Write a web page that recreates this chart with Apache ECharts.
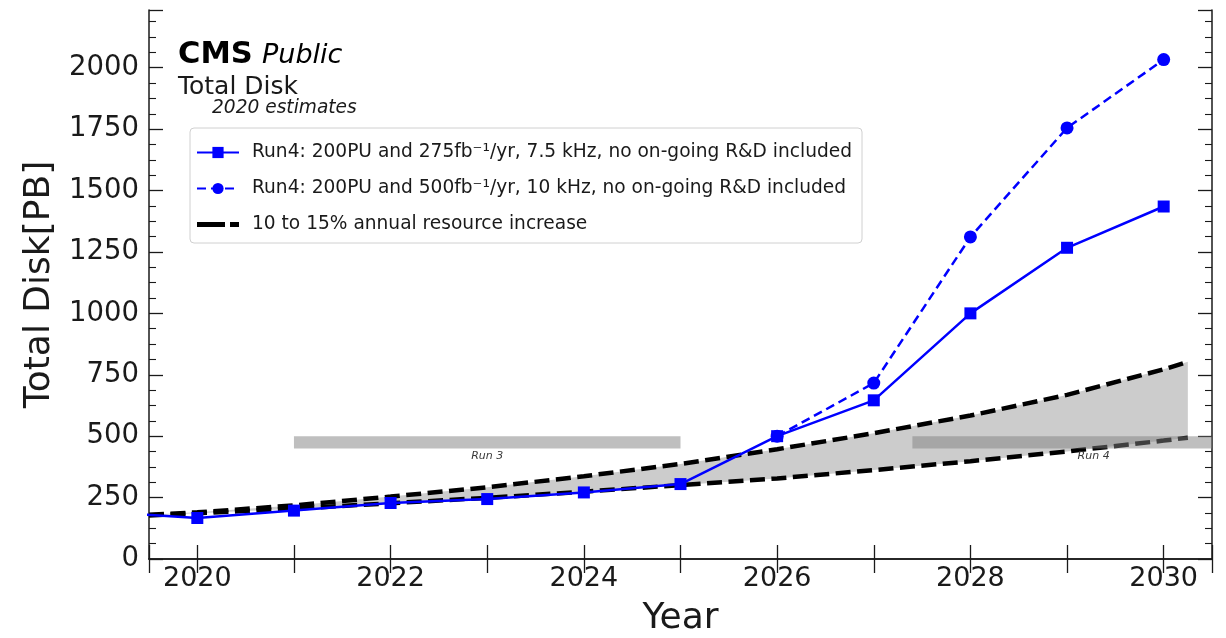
<!DOCTYPE html>
<html><head><meta charset="utf-8">
<script src="https://cdn.jsdelivr.net/npm/echarts@6/dist/echarts.min.js"></script>
<style>html,body{margin:0;padding:0;background:#fff}#c{width:1226px;height:638px}</style>
</head><body><div id="c"></div>
<script>
// ---- data ----
const years = [2019, 2020, 2021, 2022, 2023, 2024, 2025, 2026, 2027, 2028, 2029, 2030];
const disk275 = [193, 167, 197, 228, 244, 271, 305, 500, 646, 1000, 1267, 1435];
const years500 = [2026, 2027, 2028, 2029, 2030];
const disk500 = [500, 716, 1311, 1755, 2033];
const bandYears = [2019.5, 2020, 2021, 2022, 2023, 2024, 2025, 2026, 2027, 2028, 2029, 2030, 2030.25];
const growth15 = [180, 190, 218, 254, 292, 337, 387, 447, 512, 584, 668, 772, 803];
const growth10 = [177, 186, 205, 227, 249, 274, 301, 328, 362, 398, 438, 482, 494];
const runNames = ['Run 3', 'Run 4'];
const runStart = [2021, 2027.4];
const runEnd = [2025, 2031.15];
const runBand = [450, 500];
const xLabelYears = [2020, 2022, 2024, 2026, 2028, 2030];
const seriesNames = [
  'Run4: 200PU and 275fb\u207B\u00B9/yr, 7.5 kHz, no on-going R&D included',
  'Run4: 200PU and 500fb\u207B\u00B9/yr, 10 kHz, no on-going R&D included',
  '10 to 15% annual resource increase'
];

const FONT = 'DejaVu Sans';
const INK = '#1a1a1a';
const pair = (xs, ys) => xs.map((x, i) => [x, ys[i]]);

const chart = echarts.init(document.getElementById('c'));
const axisLine = { show: true, lineStyle: { color: INK, width: 1.5 } };
const xBase = {
  type: 'value', min: 2019.5, max: 2030.5, minInterval: 1, maxInterval: 1, splitNumber: 11,
  axisLine: axisLine, splitLine: { show: false },
  axisTick: { show: true, inside: true, length: 14, lineStyle: { color: INK, width: 1.3 } }
};
const yBase = {
  type: 'value', min: 0, max: 2235, interval: 250,
  axisLine: axisLine, splitLine: { show: false },
  axisTick: { show: true, inside: true, length: 14, lineStyle: { color: INK, width: 1.3 } },
  minorTick: { show: true, splitNumber: 4, length: 7, lineStyle: { color: INK, width: 1.1 } }
};

chart.setOption({
  animation: false,
  backgroundColor: '#fff',
  grid: { left: 149, right: 14, top: 10, bottom: 79, containLabel: false, outerBoundsMode: 'none' },
  xAxis: [
    Object.assign({}, xBase, {
      position: 'bottom',
      name: 'Year', nameLocation: 'middle', nameGap: 42,
      nameTextStyle: { fontFamily: FONT, fontSize: 36, color: INK },
      axisLabel: {
        margin: 6, fontFamily: FONT, fontSize: 27, color: INK,
        formatter: v => (xLabelYears.indexOf(v) >= 0 ? String(v) : '')
      }
    }),
    Object.assign({}, xBase, { position: 'top', axisLabel: { show: false } })
  ],
  yAxis: [
    Object.assign({}, yBase, {
      position: 'left',
      name: 'Total Disk[PB]', nameLocation: 'middle', nameGap: 90,
      nameTextStyle: { fontFamily: FONT, fontSize: 36, color: INK },
      axisLabel: {
        margin: 10, fontFamily: FONT, fontSize: 27.5, color: INK,
        formatter: v => (v % 250 === 0 ? String(v) : '')
      }
    }),
    Object.assign({}, yBase, { position: 'right', axisLabel: { show: false } })
  ],
  legend: {
    orient: 'vertical', left: 190, top: 128,
    data: [
      { name: seriesNames[0] },
      { name: seriesNames[1] },
      { name: seriesNames[2], icon: 'path://M0,0H28V5H0Z M33,0H42V5H33Z' }
    ],
    itemWidth: 42, itemHeight: 14, itemGap: 17,
    padding: [15, 10, 9, 6],
    backgroundColor: '#fff', borderColor: '#d0d0d0', borderWidth: 1, borderRadius: 4,
    textStyle: { fontFamily: FONT, fontSize: 18.6, color: INK, lineHeight: 17, padding: [0, 0, 0, 8] }
  },
  graphic: [
    { type: 'text', x: 178, y: 55, z: 100, style: { text: 'CMS', fontFamily: FONT, fontSize: 30.5, fontWeight: 'bold', fill: '#000', verticalAlign: 'middle' } },
    { type: 'text', x: 262, y: 56, z: 100, style: { text: 'Public', fontFamily: FONT, fontSize: 27, fontStyle: 'italic', fill: '#000', verticalAlign: 'middle' } },
    { type: 'text', x: 178, y: 87, z: 100, style: { text: 'Total Disk', fontFamily: FONT, fontSize: 25, fill: INK, verticalAlign: 'middle' } },
    { type: 'text', x: 212, y: 108, z: 100, style: { text: '2020 estimates', fontFamily: FONT, fontSize: 18.6, fontStyle: 'italic', fill: INK, verticalAlign: 'middle' } }
  ],
  series: [
    {
      name: 'band', type: 'custom', z: 1, silent: true,
      data: [[bandYears[0], growth10[0]]],
      renderItem: function (params, api) {
        const pts = [];
        for (let i = 0; i < bandYears.length; i++) pts.push(api.coord([bandYears[i], growth15[i]]));
        for (let i = bandYears.length - 1; i >= 0; i--) pts.push(api.coord([bandYears[i], growth10[i]]));
        return { type: 'polygon', shape: { points: pts }, style: { fill: 'rgba(128,128,128,0.4)' } };
      }
    },
    {
      name: seriesNames[2], type: 'line', z: 2, data: pair(bandYears, growth15), symbol: 'none',
      lineStyle: { color: '#000', width: 4.5, type: [15, 6.5] }, itemStyle: { color: '#000' }
    },
    {
      name: seriesNames[2], type: 'line', z: 2, data: pair(bandYears, growth10), symbol: 'none',
      lineStyle: { color: '#000', width: 4.5, type: [15, 6.5] }, itemStyle: { color: '#000' }
    },
    {
      name: 'runs', type: 'custom', z: 3, silent: true,
      data: runStart.map((s, i) => [s, runEnd[i], runBand[0], runBand[1]]),
      encode: { x: [0, 1], y: [2, 3] },
      renderItem: function (params, api) {
        const i = params.dataIndex;
        const p0 = api.coord([api.value(0), api.value(3)]);
        const p1 = api.coord([api.value(1), api.value(2)]);
        const cs = params.coordSys;
        const x0 = Math.max(p0[0], cs.x), x1 = Math.min(p1[0], cs.x + cs.width);
        return {
          type: 'group', children: [
            { type: 'rect', shape: { x: x0, y: p0[1], width: x1 - x0, height: p1[1] - p0[1] }, style: { fill: 'rgba(128,128,128,0.5)' } },
            { type: 'text', x: (p0[0] + p1[0]) / 2, y: p1[1] + 2, style: { text: runNames[i], fontFamily: FONT, fontSize: 11, fontStyle: 'italic', fill: '#3a3a3a', align: 'center', verticalAlign: 'top' } }
          ]
        };
      }
    },
    {
      name: seriesNames[1], type: 'line', z: 4, data: pair(years500, disk500),
      symbol: 'circle', symbolSize: 13, clip: true,
      lineStyle: { color: '#0000ff', width: 2.5, type: [9, 5] }, itemStyle: { color: '#0000ff' }
    },
    {
      name: seriesNames[0], type: 'line', z: 5, data: pair(years, disk275),
      symbol: 'rect', symbolSize: 12, clip: true,
      lineStyle: { color: '#0000ff', width: 2.5 }, itemStyle: { color: '#0000ff' }
    }
  ]
});
</script>
</body></html>
